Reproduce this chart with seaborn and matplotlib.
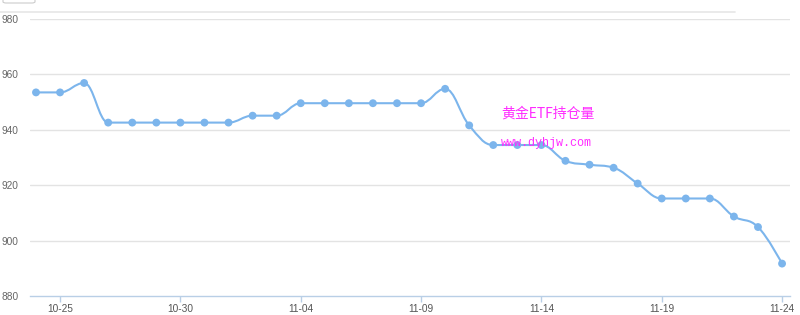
import numpy as np
import pandas as pd
import matplotlib
matplotlib.use("Agg")
import matplotlib.pyplot as plt
from matplotlib.path import Path
from matplotlib.patches import PathPatch, FancyBboxPatch
from matplotlib.lines import Line2D
import seaborn as sns

dates = ['10-24', '10-25', '10-26', '10-27', '10-28', '10-29', '10-30', '10-31',
         '11-01', '11-02', '11-03', '11-04', '11-05', '11-06', '11-07', '11-08',
         '11-09', '11-10', '11-11', '11-12', '11-13', '11-14', '11-15', '11-16',
         '11-17', '11-18', '11-19', '11-20', '11-21', '11-22', '11-23', '11-24']
holdings = [953.5, 953.5, 956.9, 942.6, 942.6, 942.6, 942.6, 942.6,
            942.6, 945.1, 945.1, 949.6, 949.6, 949.6, 949.6, 949.6,
            949.6, 954.8, 941.6, 934.5, 934.5, 934.5, 928.8, 927.4,
            926.3, 920.6, 915.2, 915.2, 915.2, 908.7, 904.9, 891.7]
tick_labels = ['10-25', '10-30', '11-04', '11-09', '11-14', '11-19', '11-24']
y_ticks = [880, 900, 920, 940, 960, 980]
title_text = '黄金ETF持仓量'
site_text = 'www.dyhjw.com'

df = pd.DataFrame({'idx': np.arange(len(dates)), 'date': dates, 'value': holdings})

sns.set_theme(style='white')
plt.rcParams['font.family'] = ['Liberation Sans', 'DejaVu Sans']

W, H = 800, 315
fig = plt.figure(figsize=(W / 100, H / 100), dpi=100)
ax = fig.add_axes([30 / W, 1 - 296 / H, 760 / W, 277 / H])

line_color = '#7cb5ec'

# spline path (Highcharts-style control points, no false extremes)
xs = df['idx'].to_numpy(dtype=float)
ys = df['value'].to_numpy(dtype=float)
n = len(xs)
sm = 1.5
den = sm + 1
left_c = [None] * n
right_c = [None] * n
for i in range(1, n - 1):
    lx, ly = xs[i - 1], ys[i - 1]
    x, y = xs[i], ys[i]
    nx, ny = xs[i + 1], ys[i + 1]
    lcx = (sm * x + lx) / den
    lcy = (sm * y + ly) / den
    rcx = (sm * x + nx) / den
    rcy = (sm * y + ny) / den
    corr = 0.0
    if rcx != lcx:
        corr = (rcy - lcy) * (rcx - x) / (rcx - lcx) + y - rcy
    lcy += corr
    rcy += corr
    if lcy > ly and lcy > y:
        lcy = max(ly, y)
        rcy = 2 * y - lcy
    elif lcy < ly and lcy < y:
        lcy = min(ly, y)
        rcy = 2 * y - lcy
    if rcy > ny and rcy > y:
        rcy = max(ny, y)
        lcy = 2 * y - rcy
    elif rcy < ny and rcy < y:
        rcy = min(ny, y)
        lcy = 2 * y - rcy
    left_c[i] = (lcx, lcy)
    right_c[i] = (rcx, rcy)

verts = [(xs[0], ys[0])]
codes = [Path.MOVETO]
for i in range(1, n):
    c1 = right_c[i - 1] if right_c[i - 1] is not None else (xs[i - 1], ys[i - 1])
    c2 = left_c[i] if left_c[i] is not None else (xs[i], ys[i])
    verts += [c1, c2, (xs[i], ys[i])]
    codes += [Path.CURVE4] * 3
path = Path(verts, codes)
ax.add_patch(PathPatch(path, facecolor='none', edgecolor=line_color, lw=1.5,
                       zorder=3, capstyle='round', joinstyle='round'))

sns.scatterplot(data=df, x='idx', y='value', ax=ax, color=line_color, s=32,
                edgecolor='none', zorder=4, legend=False)

ax.set_xlim(-0.249, 31.33)
ax.set_ylim(880, 980)
ax.set_xlabel('')
ax.set_ylabel('')

tick_pos = [dates.index(t) for t in tick_labels]
ax.set_xticks(tick_pos)
ax.set_xticklabels(tick_labels)
ax.set_yticks(y_ticks)
ax.set_yticklabels([str(v) for v in y_ticks])

for yv in y_ticks[1:]:
    ax.axhline(yv, color='#e3e3e3', lw=1.0, zorder=1)

for s in ['top', 'right', 'left']:
    ax.spines[s].set_visible(False)
ax.spines['bottom'].set_color('#b9cfe6')
ax.spines['bottom'].set_linewidth(1.0)

ax.tick_params(axis='x', length=4.5, width=1, color='#b9cfe6', pad=1.5,
               labelsize=7.3, labelcolor='#555555', bottom=True)
ax.tick_params(axis='y', length=0, pad=20.2, labelsize=7.3, labelcolor='#666666')
for lab in ax.get_yticklabels():
    lab.set_horizontalalignment('left')

fig.text(501 / W, 1 - 113.5 / H, title_text, color='#ff2bff', fontsize=10,
         family=['Noto Sans CJK SC', 'DejaVu Sans'], ha='left', va='center')
fig.text(501 / W, 1 - 143 / H, site_text, color='#ff2bff', fontsize=8.5,
         family=['Liberation Mono', 'DejaVu Sans Mono'], ha='left', va='center')

# top decorations: separator line and button edge
fig.add_artist(Line2D([0, 735 / W], [1 - 12 / H, 1 - 12 / H], color='#e6e6e6', lw=1.2,
                      transform=fig.transFigure))
fig.add_artist(FancyBboxPatch((3 / W, 1 - 3 / H), 32 / W, 10 / H,
                              boxstyle='round,pad=0,rounding_size=0.004',
                              facecolor='white', edgecolor='#cccccc', lw=0.8,
                              transform=fig.transFigure))

fig.savefig('out.png', dpi=100)
